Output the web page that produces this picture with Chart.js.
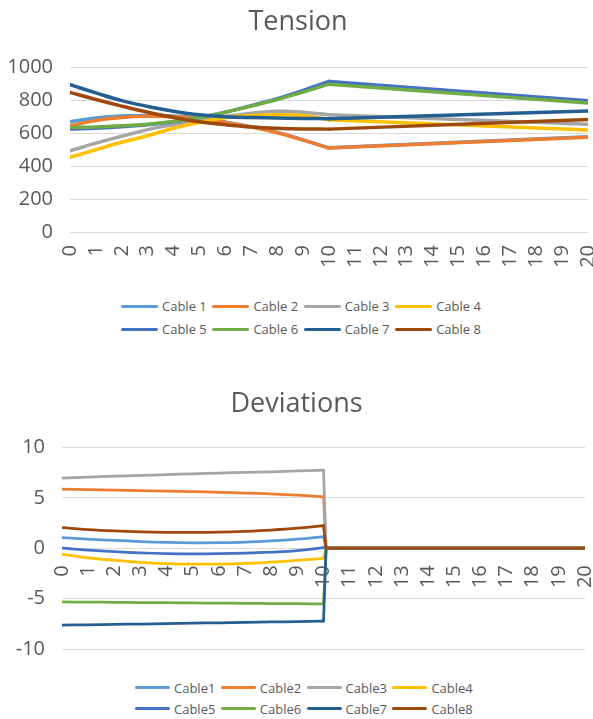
<!DOCTYPE html>
<html>
<head>
<meta charset="utf-8">
<script src="https://cdn.jsdelivr.net/npm/chart.js@4.4.1/dist/chart.umd.min.js"></script>
<style>
  html, body { margin: 0; padding: 0; background: #ffffff; }
  body { width: 593px; height: 719px; position: relative; overflow: hidden; font-family: "Open Sans", sans-serif; }
  .box { position: absolute; left: 0; width: 593px; }
  #tensionBox { top: 0; height: 280px; }
  #deviationBox { top: 370px; height: 290px; }
  .legend { position: absolute; display: grid; row-gap: 0; }
  .legend .item { display: flex; align-items: center; height: 22px; color: #595959; font-size: 13px; white-space: nowrap; }
  .legend .swatch { display: inline-block; height: 3px; border-radius: 2px; margin-right: 4px; }
  #tensionLegend { left: 121px; top: 295px; grid-template-columns: repeat(4, 91.4px); row-gap: 1px; }
  #tensionLegend .swatch { width: 37px; }
  #deviationLegend { left: 135px; top: 677px; grid-template-columns: repeat(4, 85.8px); }
  #deviationLegend .item { height: 21px; }
  #deviationLegend .swatch { width: 35px; }
</style>
</head>
<body>
<div class="box" id="tensionBox"><canvas id="tensionChart"></canvas></div>
<div class="legend" id="tensionLegend"></div>
<div class="box" id="deviationBox"><canvas id="deviationChart"></canvas></div>
<div class="legend" id="deviationLegend"></div>
<script>
// Stations along the structure (0..20); measured values exist at 0..10 and at 20.
const stations = [0, 1, 2, 3, 4, 5, 6, 7, 8, 9, 10];
const tensionTailStations = [10, 20];
const deviationTailStations = [10, 10.1, 20];

const tensionNames = ['Cable 1', 'Cable 2', 'Cable 3', 'Cable 4', 'Cable 5', 'Cable 6', 'Cable 7', 'Cable 8'];
const deviationNames = ['Cable1', 'Cable2', 'Cable3', 'Cable4', 'Cable5', 'Cable6', 'Cable7', 'Cable8'];
const cableColors = ['#5B9BD5', '#ED7D31', '#A5A5A5', '#FFC000', '#4472C4', '#70AD47', '#255E91', '#9E480E'];

// Cable tension at stations 0..10
const tension1 = [670, 693, 705, 708, 705, 692, 668, 640, 605, 560, 512];
const tension2 = [645, 678, 696, 703, 700, 688, 665, 638, 603, 558, 510];
const tension3 = [493, 540, 582, 622, 652, 678, 702, 722, 734, 728, 712];
const tension4 = [453, 500, 545, 585, 630, 665, 695, 708, 713, 708, 682];
const tension5 = [625, 630, 640, 652, 670, 695, 728, 768, 810, 860, 915];
const tension6 = [635, 638, 645, 655, 672, 695, 728, 765, 805, 850, 898];
const tension7 = [895, 845, 798, 763, 734, 712, 700, 695, 693, 690, 688];
const tension8 = [848, 805, 765, 728, 696, 670, 652, 638, 630, 626, 625];
// Cable tension at station 20
const tensionEnd = [578, 575, 655, 620, 798, 783, 735, 684];

// Deviations at stations 0..10
const deviation1 = [1.05, 0.9, 0.78, 0.66, 0.58, 0.54, 0.55, 0.6, 0.72, 0.9, 1.15];
const deviation2 = [5.87, 5.82, 5.77, 5.72, 5.67, 5.62, 5.55, 5.47, 5.38, 5.26, 5.1];
const deviation3 = [6.95, 7.05, 7.14, 7.22, 7.3, 7.38, 7.45, 7.52, 7.58, 7.66, 7.75];
const deviation4 = [-0.6, -0.95, -1.2, -1.4, -1.52, -1.58, -1.57, -1.5, -1.38, -1.2, -1.0];
const deviation5 = [0, -0.2, -0.35, -0.46, -0.53, -0.56, -0.55, -0.5, -0.4, -0.25, 0.05];
const deviation6 = [-5.33, -5.35, -5.37, -5.39, -5.41, -5.43, -5.45, -5.47, -5.49, -5.51, -5.53];
const deviation7 = [-7.63, -7.6, -7.56, -7.52, -7.48, -7.44, -7.4, -7.36, -7.32, -7.28, -7.24];
const deviation8 = [2.04, 1.85, 1.72, 1.63, 1.58, 1.57, 1.6, 1.68, 1.8, 1.98, 2.24];
// Deviations past station 10 (at 10.1 and 20)
const deviationAfter = [0, 0];

const tensionTicks = { min: 0, max: 1000, step: 200 };
const deviationTicks = { min: -10, max: 10, step: 5 };
const stationTicks = { min: 0, max: 20, step: 1 };

const tensionSeries = [tension1, tension2, tension3, tension4, tension5, tension6, tension7, tension8];
const deviationSeries = [deviation1, deviation2, deviation3, deviation4, deviation5, deviation6, deviation7, deviation8];

const FONT = '"Open Sans", sans-serif';
const TEXT = '#595959';
const GRID = '#D9D9D9';

function toPoints(xs, ys) {
  return xs.map((x, i) => ({ x: x, y: ys[i] }));
}

function buildDatasets(names, series, tailXs, tailFor, width) {
  const main = series.map((ys, i) => ({
    label: names[i],
    data: toPoints(stations, ys),
    borderColor: cableColors[i],
    backgroundColor: cableColors[i],
    borderWidth: width,
    pointRadius: 0,
    tension: 0.4,
    borderCapStyle: 'round',
    borderJoinStyle: 'round',
    order: series.length - i
  }));
  const tails = series.map((ys, i) => ({
    label: names[i] + ' tail',
    data: toPoints(tailXs, tailFor(i, ys)),
    borderColor: cableColors[i],
    backgroundColor: cableColors[i],
    borderWidth: width,
    pointRadius: 0,
    tension: 0,
    borderCapStyle: 'round',
    borderJoinStyle: 'round',
    order: series.length - i
  }));
  return main.concat(tails);
}

function xScale(labelPad, extra) {
  return Object.assign({
    type: 'linear',
    min: stationTicks.min,
    max: stationTicks.max,
    ticks: {
      stepSize: stationTicks.step,
      autoSkip: false,
      minRotation: 90,
      maxRotation: 90,
      color: TEXT,
      font: { family: FONT, size: 20 },
      padding: labelPad,
      callback: (v) => String(v)
    },
    grid: { display: false, drawTicks: false },
    border: { display: false },
    afterFit: (s) => { s.paddingLeft = 0; s.paddingRight = 0; }
  }, extra);
}

function yScale(t, width) {
  return {
    min: t.min,
    max: t.max,
    ticks: {
      stepSize: t.step,
      color: TEXT,
      font: { family: FONT, size: 20 },
      padding: 17,
      callback: (v) => String(v)
    },
    grid: { color: GRID, lineWidth: 1, drawTicks: false },
    border: { display: false },
    afterFit: (s) => { s.width = width; s.paddingTop = 0; s.paddingBottom = 0; }
  };
}

function titleOpts(text, top, bottom) {
  return {
    display: true,
    text: text,
    color: TEXT,
    font: { family: FONT, size: 27, weight: 'normal', lineHeight: 1.2 },
    padding: { top: top, bottom: bottom }
  };
}

const tensionChart = new Chart(document.getElementById('tensionChart'), {
  type: 'line',
  data: {
    datasets: buildDatasets(tensionNames, tensionSeries, tensionTailStations,
      (i, ys) => [ys[ys.length - 1], tensionEnd[i]], 3.5)
  },
  options: {
    responsive: true,
    maintainAspectRatio: false,
    animation: false,
    layout: { padding: { left: 8, right: 5, top: 0, bottom: 8 } },
    scales: {
      x: xScale(13, { afterFit: (s) => { s.paddingLeft = 0; s.paddingRight = 0; s.height = 40; } }),
      y: yScale(tensionTicks, 62)
    },
    plugins: {
      title: titleOpts('Tension', 6, 29),
      legend: { display: false },
      tooltip: { enabled: false }
    }
  }
});

const deviationChart = new Chart(document.getElementById('deviationChart'), {
  type: 'line',
  data: {
    datasets: buildDatasets(deviationNames, deviationSeries, deviationTailStations,
      (i, ys) => [ys[ys.length - 1]].concat(deviationAfter), 2.75)
  },
  options: {
    responsive: true,
    maintainAspectRatio: false,
    animation: false,
    layout: { padding: { left: 8, right: 8, top: 0, bottom: 11 } },
    scales: {
      x: xScale(17, { position: { y: 0 } }),
      y: yScale(deviationTicks, 54)
    },
    plugins: {
      title: titleOpts('Deviations', 18, 27),
      legend: { display: false },
      tooltip: { enabled: false }
    }
  }
});

// HTML legend built from the chart's own legend items (first eight datasets only)
function renderLegend(chart, el) {
  const items = chart.options.plugins.legend.labels.generateLabels(chart)
    .filter((item) => item.datasetIndex < 8)
    .sort((a, b) => a.datasetIndex - b.datasetIndex);
  items.forEach((item) => {
    const row = document.createElement('div');
    row.className = 'item';
    const sw = document.createElement('span');
    sw.className = 'swatch';
    sw.style.background = item.strokeStyle;
    const label = document.createElement('span');
    label.textContent = item.text;
    row.appendChild(sw);
    row.appendChild(label);
    el.appendChild(row);
  });
}
renderLegend(tensionChart, document.getElementById('tensionLegend'));
renderLegend(deviationChart, document.getElementById('deviationLegend'));
</script>
</body>
</html>
